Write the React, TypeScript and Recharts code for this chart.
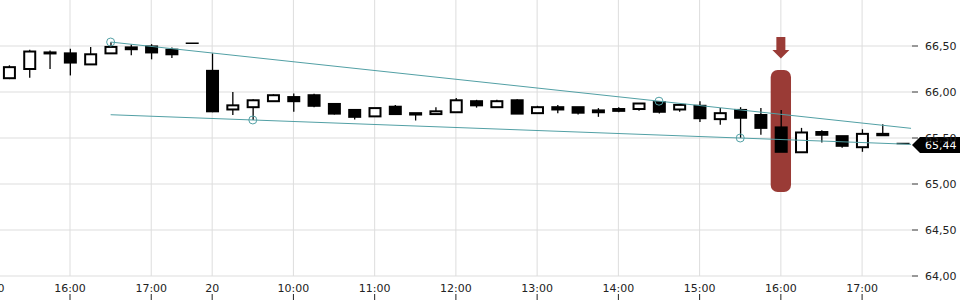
import React from 'react';
import {
  ComposedChart,
  Bar,
  XAxis,
  YAxis,
  CartesianGrid,
  ReferenceLine,
  ReferenceDot,
  ReferenceArea,
} from 'recharts';

const candleTimes = [
  '15:15', '15:30', '15:45', '16:00', '16:15', '16:30', '16:45', '17:00', '17:15', '17:30',
  '09:00', '09:15', '09:30', '09:45', '10:00', '10:15', '10:30', '10:45', '11:00', '11:15',
  '11:30', '11:45', '12:00', '12:15', '12:30', '12:45', '13:00', '13:15', '13:30', '13:45',
  '14:00', '14:15', '14:30', '14:45', '15:00', '15:15', '15:30', '15:45', '16:00', '16:15',
  '16:30', '16:45', '17:00', '17:15', '17:30',
];

const opens = [
  66.15, 66.25, 66.43, 66.42, 66.30, 66.42, 66.465, 66.495, 66.46, 66.53,
  66.23, 65.81, 65.835, 65.90, 65.945, 65.965, 65.87, 65.805, 65.735, 65.84,
  65.77, 65.76, 65.78, 65.90, 65.835, 65.91, 65.77, 65.835, 65.835, 65.78,
  65.815, 65.815, 65.89, 65.81, 65.85, 65.705, 65.805, 65.75, 65.615, 65.345,
  65.565, 65.52, 65.40, 65.545, 65.44,
];
const highs = [
  66.29, 66.46, 66.45, 66.47, 66.49, 66.54, 66.515, 66.52, 66.485, 66.53,
  66.42, 66.00, 65.92, 65.975, 65.985, 65.98, 65.87, 65.81, 65.825, 65.86,
  65.77, 65.835, 65.935, 65.915, 65.915, 65.92, 65.85, 65.86, 65.835, 65.825,
  65.835, 65.875, 65.90, 65.86, 65.90, 65.825, 65.835, 65.825, 65.805, 65.61,
  65.585, 65.52, 65.595, 65.65, 65.44,
];
const lows = [
  66.14, 66.155, 66.25, 66.18, 66.30, 66.42, 66.40, 66.355, 66.37, 66.53,
  65.78, 65.75, 65.696, 65.90, 65.785, 65.835, 65.755, 65.70, 65.735, 65.76,
  65.69, 65.76, 65.78, 65.83, 65.835, 65.765, 65.77, 65.77, 65.755, 65.73,
  65.78, 65.795, 65.765, 65.785, 65.675, 65.645, 65.50, 65.535, 65.35, 65.345,
  65.45, 65.395, 65.35, 65.53, 65.44,
];
const closes = [
  66.27, 66.44, 66.42, 66.32, 66.41, 66.49, 66.485, 66.43, 66.41, 66.53,
  65.79, 65.855, 65.91, 65.965, 65.90, 65.85, 65.765, 65.73, 65.825, 65.76,
  65.755, 65.79, 65.91, 65.855, 65.90, 65.765, 65.835, 65.81, 65.775, 65.80,
  65.795, 65.875, 65.785, 65.86, 65.715, 65.77, 65.72, 65.61, 65.35, 65.56,
  65.535, 65.415, 65.545, 65.53, 65.44,
];

const tickIndex = [-1, 3, 7, 10, 14, 18, 22, 26, 30, 34, 38, 42];
const tickLabels = ['15:00', '16:00', '17:00', '20', '10:00', '11:00', '12:00', '13:00', '14:00', '15:00', '16:00', '17:00'];
const priceTicks = [64, 64.5, 65, 65.5, 66, 66.5];

const upperTrend = [{ x: 5, y: 66.543 }, { x: 44.41, y: 65.605 }];
const lowerTrend = [{ x: 5, y: 65.753 }, { x: 44.41, y: 65.431 }];
const touchPoints = [
  { x: 5, y: 66.543 },
  { x: 12, y: 65.696 },
  { x: 32, y: 65.9 },
  { x: 36, y: 65.5 },
];
const signalIndex = 38;
const signalRange = [64.913, 66.239];
const lastPrice = 65.44;

const X_DOMAIN: [number, number] = [-1.924, 44.457];
const Y_DOMAIN: [number, number] = [64, 67];

const candles = candleTimes.map((t, i) => ({
  i,
  time: t,
  open: opens[i],
  high: highs[i],
  low: lows[i],
  close: closes[i],
}));

const TEAL = '#52a0a5';
const FONT = 'DejaVu Sans';

const Candle = (props: any) => {
  const { x, y, width, height, payload } = props;
  const cx = x + width / 2;
  const { open, high, low, close } = payload;
  if (high === low || !height) {
    return <line x1={cx - 6.5} x2={cx + 6.5} y1={y} y2={y} stroke="#000" strokeWidth={1.5} />;
  }
  const py = (v: number) => y + ((high - v) / (high - low)) * height;
  const yo = py(open);
  const yc = py(close);
  const top = Math.min(yo, yc);
  const bh = Math.max(Math.abs(yo - yc), 1);
  const up = close >= open;
  return (
    <g>
      <line x1={cx} x2={cx} y1={y} y2={y + height} stroke="#000" strokeWidth={1.3} />
      <rect
        x={cx - 5.5}
        y={top}
        width={11}
        height={bh}
        fill={up ? '#fff' : '#000'}
        stroke="#000"
        strokeWidth={2}
      />
    </g>
  );
};

const XTick = (props: any) => {
  const { x, y, payload } = props;
  const k = tickIndex.indexOf(payload.value);
  const label = k >= 0 ? tickLabels[k] : '';
  return (
    <g>
      <text x={x} y={y + 15.5} textAnchor="middle" fontFamily={FONT} fontSize={11} fill="#222">
        {label}
      </text>
      <line x1={x} x2={x} y1={y + 18} y2={y + 24} stroke="#222" strokeWidth={1} />
    </g>
  );
};

const SignalMarker = (props: any) => {
  const { x, y, width, height } = props;
  const cx = x + width / 2;
  return (
    <g>
      <rect x={x} y={y} width={width} height={height} rx={7} ry={7} fill="#9a3b36" />
      <rect x={cx - 4.5} y={y - 33} width={9} height={13.5} fill="#9a3b36" />
      <polygon points={`${cx - 8.5},${y - 20} ${cx + 8.5},${y - 20} ${cx},${y - 11.5}`} fill="#9a3b36" />
    </g>
  );
};

const PriceTag = (props: any) => {
  const vb = props.viewBox || {};
  const x0 = vb.x + vb.width;
  const yc = vb.y + 1.5;
  return (
    <g>
      <polygon
        points={`${x0},${yc} ${x0 + 8},${yc - 8} ${x0 + 60},${yc - 8} ${x0 + 60},${yc + 8} ${x0 + 8},${yc + 8}`}
        fill="#000"
      />
      <text x={x0 + 13} y={yc} dy="0.36em" fontFamily={FONT} fontSize={11} fill="#fff">
        {lastPrice.toFixed(2).replace('.', ',')}
      </text>
    </g>
  );
};

const vGen = (p: any) => {
  const off = p.offset || {};
  const left = off.left ?? 0;
  const w = off.width ?? p.width;
  return tickIndex.map((t) => left + ((t - X_DOMAIN[0]) / (X_DOMAIN[1] - X_DOMAIN[0])) * w);
};
const hGen = (p: any) => {
  const off = p.offset || {};
  const top = off.top ?? 0;
  const h = off.height ?? p.height;
  return priceTicks.map((v) => top + ((Y_DOMAIN[1] - v) / (Y_DOMAIN[1] - Y_DOMAIN[0])) * h);
};

export default function App() {
  return (
    <div style={{ position: 'absolute', left: 0, top: 0, width: 960, height: 300, overflow: 'hidden', background: '#fff' }}>
      <div style={{ position: 'absolute', left: -30, top: 0 }}>
        <ComposedChart
          width={990}
          height={300}
          data={candles}
          margin={{ top: 0, right: 0, bottom: 0, left: 0 }}
        >
          <CartesianGrid
            stroke="#dddddd"
            strokeWidth={1}
            syncWithTicks
            verticalCoordinatesGenerator={vGen}
            horizontalCoordinatesGenerator={hGen}
          />
          <XAxis
            dataKey="i"
            type="number"
            domain={X_DOMAIN}
            allowDataOverflow
            ticks={tickIndex}
            interval={0}
            height={24}
            tickLine={false}
            axisLine={false}
            tickSize={0}
            tickMargin={0}
            tick={<XTick />}
          />
          <YAxis
            orientation="right"
            type="number"
            domain={Y_DOMAIN}
            allowDataOverflow
            ticks={priceTicks}
            width={48}
            axisLine={false}
            tickLine={{ stroke: '#333' }}
            tickSize={6}
            tickMargin={7}
            tick={{ fontFamily: FONT, fontSize: 11, fill: '#222' }}
            tickFormatter={(v: number) => v.toFixed(2).replace('.', ',')}
          />
          <ReferenceArea
            x1={signalIndex - 0.5}
            x2={signalIndex + 0.5}
            y1={signalRange[0]}
            y2={signalRange[1]}
            ifOverflow="visible"
            shape={(p: any) => <SignalMarker {...p} />}
          />
          <ReferenceLine segment={upperTrend} stroke={TEAL} strokeWidth={1} ifOverflow="visible" />
          <ReferenceLine segment={lowerTrend} stroke={TEAL} strokeWidth={1} ifOverflow="visible" />
          {touchPoints.map((p, k) => (
            <ReferenceDot key={k} x={p.x} y={p.y} r={4} fill="none" stroke={TEAL} strokeWidth={1} ifOverflow="visible" />
          ))}
          <Bar
            dataKey={(d: any) => [d.low, d.high]}
            barSize={13}
            isAnimationActive={false}
            shape={(p: any) => <Candle {...p} />}
          />
          <ReferenceLine y={lastPrice} stroke="none" ifOverflow="visible" label={(p: any) => <PriceTag {...p} />} />
        </ComposedChart>
      </div>
    </div>
  );
}
